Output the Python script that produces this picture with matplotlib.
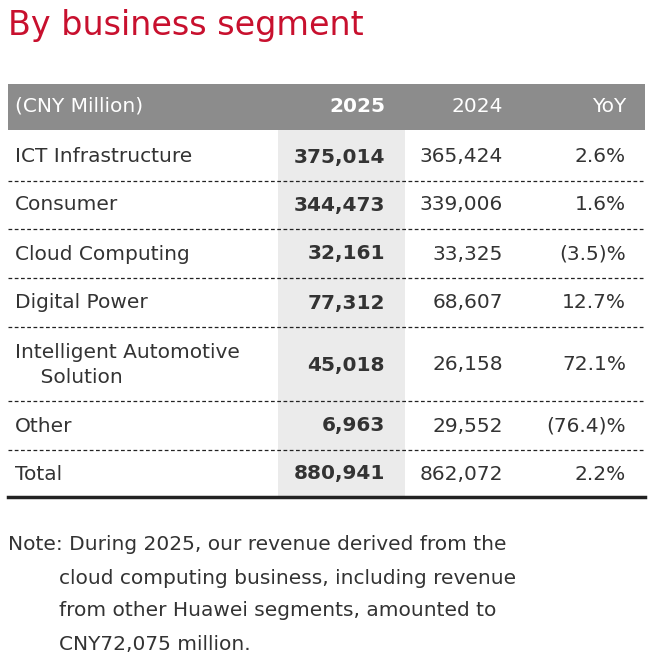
import matplotlib.pyplot as plt
from matplotlib.patches import Rectangle

segments = ['ICT Infrastructure', 'Consumer', 'Cloud Computing', 'Digital Power',
            'Intelligent Automotive\n    Solution', 'Other', 'Total']
rev_2025 = ['375,014', '344,473', '32,161', '77,312', '45,018', '6,963', '880,941']
rev_2024 = ['365,424', '339,006', '33,325', '68,607', '26,158', '29,552', '862,072']
yoy = ['2.6%', '1.6%', '(3.5)%', '12.7%', '72.1%', '(76.4)%', '2.2%']
note_lines = ['Note: During 2025, our revenue derived from the',
              '        cloud computing business, including revenue',
              '        from other Huawei segments, amounted to',
              '        CNY72,075 million.']

W, H = 656, 663
fig = plt.figure(figsize=(W / 100, H / 100), dpi=100)
ax = fig.add_axes([0, 0, 1, 1])
ax.set_xlim(0, W)
ax.set_ylim(H, 0)
ax.axis('off')

font = 'DejaVu Sans'
red = '#c8102e'
dark = '#333333'
fs = 14.5

ax.text(8, 25, 'By business segment', color=red, fontsize=24, family=font, va='center')

# header band and highlighted column
ax.add_patch(Rectangle((8, 84), 637, 46, color='#8c8c8c', lw=0))
ax.add_patch(Rectangle((278, 130), 127, 367, color='#ebebeb', lw=0))

hy = 106
ax.text(15, hy, '(CNY Million)', color='white', fontsize=fs, family=font, va='center')
ax.text(385, hy, '2025', color='white', fontsize=fs, family=font, va='center', ha='right', weight='bold')
ax.text(503, hy, '2024', color='white', fontsize=fs, family=font, va='center', ha='right')
ax.text(626, hy, 'YoY', color='white', fontsize=fs, family=font, va='center', ha='right')

row_y = [157, 205, 254, 303, 365, 426, 474]
seps = [181, 229, 278, 327, 401, 450]
for i, y in enumerate(row_y):
    ax.text(15, y, segments[i], color=dark, fontsize=fs, family=font, va='center', linespacing=1.45)
    ax.text(385, y, rev_2025[i], color=dark, fontsize=fs, family=font, va='center', ha='right', weight='bold')
    ax.text(503, y, rev_2024[i], color=dark, fontsize=fs, family=font, va='center', ha='right')
    ax.text(626, y, yoy[i], color=dark, fontsize=fs, family=font, va='center', ha='right')
for y in seps:
    ax.plot([8, 645], [y, y], color='#222222', lw=0.9, ls=(0, (3, 2)))
ax.plot([8, 645], [497, 497], color='#222222', lw=2.5)

for i, line in enumerate(note_lines):
    ax.text(8, 545 + i * 33, line, color=dark, fontsize=fs, family=font, va='center')

fig.savefig('out.png', dpi=100)
